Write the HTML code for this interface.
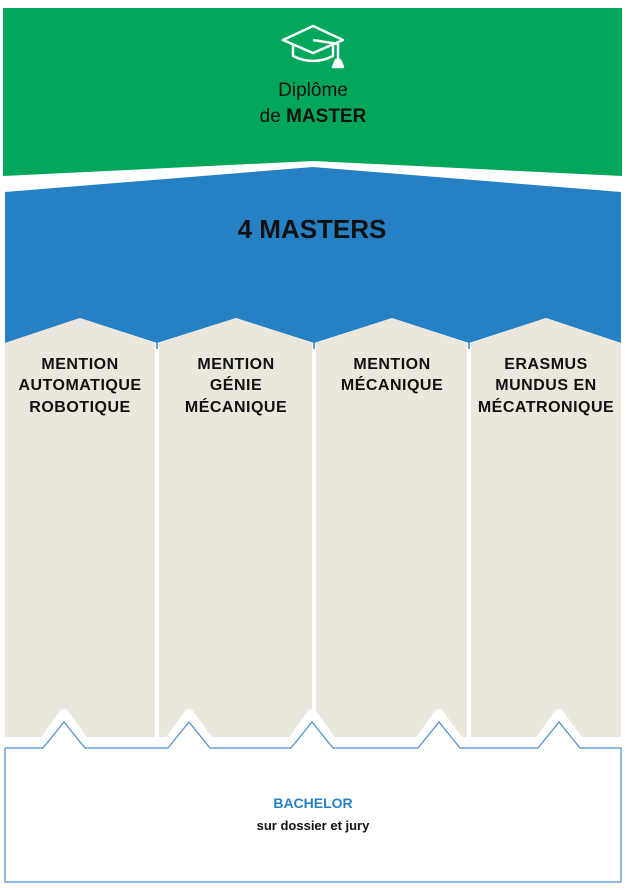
<!DOCTYPE html>
<html><head><meta charset="utf-8"><style>
html,body{margin:0;padding:0;background:#fff;width:626px;height:890px;overflow:hidden}
svg{display:block}
text{font-family:"Liberation Sans",sans-serif}
</style></head><body>
<svg width="626" height="890" viewBox="0 0 626 890" xmlns="http://www.w3.org/2000/svg">
<polygon points="3,8 622,8 622,176 313,161 3,176" fill="#00a75b"/>
<polygon points="5,192 313,167 621,192 621,343 546,318 469,343 392,318 314,343 236,318 157,343 80,318 5,343" fill="#2680c4"/>
<g fill="#ebe7dc">
<polygon points="5,343 80,318 155,343 155,737 5,737"/>
<polygon points="159,343 236,318 312,343 312,737 159,737"/>
<polygon points="316,343 392,318 467,343 467,737 316,737"/>
<polygon points="471,343 546,318 621,343 621,737 471,737"/>
</g>
<g stroke="#2680c4" stroke-width="1.5">
<line x1="157" y1="343" x2="157" y2="349"/><line x1="314" y1="343" x2="314" y2="349"/><line x1="469" y1="343" x2="469" y2="349"/>
</g>
<polyline points="8,743 43,743 64,714 85,743 168,743 189,714 210,743 291,743 312,714 333,743 418,743 439,714 460,743 538,743 559,714 580,743 618,743" fill="none" stroke="#fff" stroke-width="10" stroke-linejoin="round"/>
<polygon points="5,748 43,748 64,722 85,748 168,748 189,722 210,748 291,748 312,722 333,748 418,748 439,722 460,748 538,748 559,722 580,748 621,748 621,882 5,882" fill="#fff" stroke="#4a8fd0" stroke-width="1.2"/>
<g fill="none" stroke="#fff" stroke-width="2.5" stroke-linejoin="round">
<polygon points="283,40 313,26 343,40 313,53"/>
<path d="M293,45 v11 q20,10 40,0 v-11"/>
<path d="M313,40 L338,44 V60"/>
<path d="M336,60 l-3,7 h10 l-3,-7 z" fill="#fff"/>
</g>
<text x="313" y="96" text-anchor="middle" font-size="19" fill="#111">Diplôme</text>
<text x="313" y="122" text-anchor="middle" font-size="19" fill="#111">de <tspan font-weight="bold">MASTER</tspan></text>
<text x="312" y="238" text-anchor="middle" font-size="26" font-weight="bold" fill="#111">4 MASTERS</text>
<g font-size="16" font-weight="bold" fill="#111" text-anchor="middle" letter-spacing="0.5">
<text x="80" y="369">MENTION</text><text x="80" y="390">AUTOMATIQUE</text><text x="80" y="412">ROBOTIQUE</text>
<text x="236" y="369">MENTION</text><text x="236" y="390">GÉNIE</text><text x="236" y="412">MÉCANIQUE</text>
<text x="392" y="369">MENTION</text><text x="392" y="390">MÉCANIQUE</text>
<text x="546" y="369">ERASMUS</text><text x="546" y="390">MUNDUS EN</text><text x="546" y="412">MÉCATRONIQUE</text>
</g>
<text x="313" y="808" text-anchor="middle" font-size="14" font-weight="bold" fill="#2680c4">BACHELOR</text>
<text x="313" y="830" text-anchor="middle" font-size="13" font-weight="bold" fill="#111">sur dossier et jury</text>
</svg>
</body></html>
